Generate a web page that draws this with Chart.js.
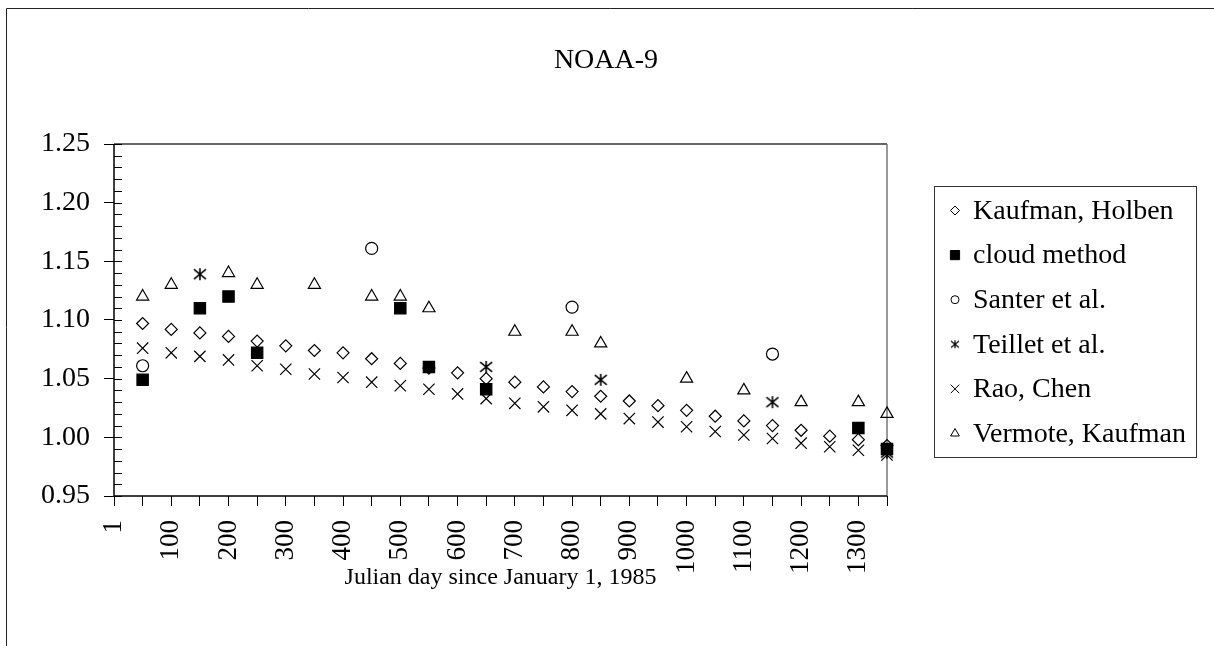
<!DOCTYPE html>
<html>
<head>
<meta charset="utf-8">
<title>NOAA-9</title>
<script src="https://cdn.jsdelivr.net/npm/chart.js@4/dist/chart.umd.min.js"></script>
<style>
  html, body { margin: 0; padding: 0; background: #fff; }
  canvas { display: block; }
</style>
</head>
<body>
<canvas id="noaaChart" width="1214" height="646"></canvas>
<script>
// x categories: Julian day since January 1, 1985
const days = [1, 50, 100, 150, 200, 250, 300, 350, 400, 450, 500, 550, 600, 650,
  700, 750, 800, 850, 900, 950, 1000, 1050, 1100, 1150, 1200, 1250, 1300, 1350];

// dense series, one value per day (null for day 1)
const kaufmanHolben = [null, 1.097, 1.092, 1.089, 1.086, 1.082, 1.078, 1.074, 1.072, 1.067,
  1.063, 1.059, 1.055, 1.050, 1.047, 1.043, 1.039, 1.035, 1.031, 1.027, 1.023, 1.018,
  1.014, 1.010, 1.006, 1.001, 0.998, 0.993];
const raoChen = [null, 1.076, 1.072, 1.069, 1.066, 1.061, 1.058, 1.054, 1.051, 1.047,
  1.044, 1.041, 1.037, 1.033, 1.029, 1.026, 1.023, 1.020, 1.016, 1.013, 1.009, 1.005,
  1.002, 0.999, 0.995, 0.992, 0.989, 0.985];

// sparse series
const cloudDays = [50, 150, 200, 250, 500, 550, 650, 1300, 1350];
const cloudValues = [1.049, 1.110, 1.120, 1.072, 1.110, 1.060, 1.041, 1.008, 0.990];
const santerDays = [50, 450, 800, 1150];
const santerValues = [1.061, 1.161, 1.111, 1.071];
const teilletDays = [150, 650, 850, 1150, 1350];
const teilletValues = [1.139, 1.060, 1.049, 1.030, 0.987];
const vermoteDays = [50, 100, 200, 250, 350, 450, 500, 550, 700, 800, 850, 1000, 1100, 1200, 1300, 1350];
const vermoteValues = [1.12, 1.13, 1.14, 1.13, 1.13, 1.12, 1.12, 1.11, 1.09, 1.09, 1.08, 1.05, 1.04, 1.03, 1.03, 1.02];

const seriesNames = ['Kaufman, Holben', 'cloud method', 'Santer et al.', 'Teillet et al.', 'Rao, Chen', 'Vermote, Kaufman'];

const FONT = '"Liberation Serif", "Times New Roman", serif';

function pairs(xs, ys) {
  return xs.map((d, i) => ({ x: d, y: ys[i] }));
}

// Excel style star: an X with a vertical bar through it
function makeAsterisk(size, lw) {
  const c = document.createElement('canvas');
  c.width = size;
  c.height = size;
  const g = c.getContext('2d');
  const m = size / 2;
  const a = size / 2 - 1;
  g.strokeStyle = '#000';
  g.lineWidth = lw;
  g.beginPath();
  g.moveTo(m, m - a); g.lineTo(m, m + a);
  g.moveTo(m - a, m - a * 0.8); g.lineTo(m + a, m + a * 0.8);
  g.moveTo(m + a, m - a * 0.8); g.lineTo(m - a, m + a * 0.8);
  g.stroke();
  return c;
}
const starBig = makeAsterisk(14, 1.6);
const starSmall = makeAsterisk(10, 1.2);

function markerSet(label, data, style, radius, filled) {
  return {
    label: label,
    data: data,
    showLine: false,
    clip: false,
    pointStyle: style,
    pointRadius: radius,
    pointHoverRadius: radius,
    pointBorderWidth: 1.2,
    pointBorderColor: '#000',
    pointBackgroundColor: filled ? '#000' : 'rgba(0,0,0,0)',
    borderColor: '#000',
    backgroundColor: filled ? '#000' : 'rgba(0,0,0,0)'
  };
}

const legendStyle = {
  rectRot: { r: 4.5 },
  rect: { r: 6.5 },
  circle: { r: 4 },
  crossRot: { r: 6 },
  triangle: { r: 5 }
};

const decorations = {
  id: 'decorations',
  beforeDraw(chart) {
    const ctx = chart.ctx;
    ctx.save();
    ctx.fillStyle = '#fff';
    ctx.fillRect(0, 0, chart.width, chart.height);
    ctx.strokeStyle = '#222';
    ctx.lineWidth = 1;
    ctx.beginPath();
    ctx.moveTo(6.5, chart.height);
    ctx.lineTo(6.5, 8.5);
    ctx.lineTo(chart.width, 8.5);
    ctx.stroke();
    ctx.restore();
  },
  beforeDatasetsDraw(chart) {
    const ctx = chart.ctx;
    const a = chart.chartArea;
    const y = chart.scales.y;
    ctx.save();
    ctx.lineWidth = 1.5;
    ctx.strokeStyle = '#333';
    ctx.beginPath();
    ctx.moveTo(a.left, a.top); ctx.lineTo(a.right, a.top);
    ctx.stroke();
    ctx.strokeStyle = '#777';
    ctx.beginPath();
    ctx.moveTo(a.right, a.top); ctx.lineTo(a.right, a.bottom);
    ctx.stroke();
    ctx.strokeStyle = '#000';
    ctx.beginPath();
    ctx.moveTo(a.left, a.top); ctx.lineTo(a.left, a.bottom); ctx.lineTo(a.right, a.bottom);
    ctx.stroke();
    // inner ticks on the value axis
    ctx.lineWidth = 1;
    ctx.beginPath();
    y.ticks.forEach(t => {
      const py = Math.round(y.getPixelForValue(t.value)) + 0.5;
      ctx.moveTo(a.left, py);
      ctx.lineTo(a.left + 8, py);
    });
    ctx.stroke();
    ctx.restore();
  },
  afterDraw(chart) {
    const ctx = chart.ctx;
    const helpers = Chart.helpers;
    ctx.save();
    // title
    ctx.fillStyle = '#000';
    ctx.font = '28px ' + FONT;
    ctx.textAlign = 'center';
    ctx.textBaseline = 'alphabetic';
    ctx.fillText('NOAA-9', 606, 68);

    // legend
    const box = { left: 934, top: 186, right: 1196, bottom: 457 };
    ctx.strokeStyle = '#333';
    ctx.lineWidth = 1;
    ctx.strokeRect(box.left + 0.5, box.top + 0.5, box.right - box.left, box.bottom - box.top);
    const step = 44.6;
    const firstY = 210.5;
    ctx.textAlign = 'left';
    ctx.textBaseline = 'middle';
    chart.data.datasets.forEach((ds, i) => {
      const cy = firstY + i * step;
      let style = ds.pointStyle;
      let r = 5;
      if (style === starBig) {
        style = starSmall;
      } else {
        r = legendStyle[style].r;
      }
      ctx.fillStyle = ds.pointBackgroundColor;
      ctx.strokeStyle = '#000';
      ctx.lineWidth = 1;
      helpers.drawPoint(ctx, { pointStyle: style, radius: r, rotation: 0, borderWidth: 1 }, 955, cy);
      ctx.fillStyle = '#000';
      ctx.fillText(ds.label, 973, cy + 1);
    });
    ctx.restore();
  }
};

new Chart(document.getElementById('noaaChart'), {
  type: 'line',
  data: {
    labels: days,
    datasets: [
      markerSet(seriesNames[0], kaufmanHolben, 'rectRot', 6, false),
      markerSet(seriesNames[1], pairs(cloudDays, cloudValues), 'rect', 8, true),
      markerSet(seriesNames[2], pairs(santerDays, santerValues), 'circle', 6, false),
      markerSet(seriesNames[3], pairs(teilletDays, teilletValues), starBig, 7, false),
      markerSet(seriesNames[4], raoChen, 'crossRot', 8, false),
      markerSet(seriesNames[5], pairs(vermoteDays, vermoteValues), 'triangle', 7, false)
    ]
  },
  options: {
    responsive: false,
    animation: false,
    events: [],
    layout: { padding: { left: 0, top: 144, right: 327, bottom: 54 } },
    plugins: {
      legend: { display: false },
      title: { display: false },
      tooltip: { enabled: false }
    },
    scales: {
      x: {
        type: 'category',
        offset: false,
        border: { display: false },
        grid: { drawOnChartArea: false, drawTicks: true, tickLength: 10, color: '#000', tickColor: '#000' },
        ticks: {
          autoSkip: false,
          maxRotation: 90,
          minRotation: 90,
          padding: 14,
          color: '#000',
          font: { family: FONT, size: 27 },
          callback: function (value, index) {
            return index % 2 === 0 ? String(this.getLabelForValue(value)) : '';
          }
        },
        title: {
          display: true,
          text: 'Julian day since January 1, 1985',
          color: '#000',
          padding: { top: 0, bottom: 0 },
          font: { family: FONT, size: 24 }
        },
        afterFit(scale) { scale.height = 96; }
      },
      y: {
        min: 0.95,
        max: 1.25,
        border: { display: false },
        grid: {
          drawOnChartArea: false,
          drawTicks: true,
          tickLength: 10,
          tickColor: ctx => {
            const v = ctx.tick ? ctx.tick.value : 0;
            return Math.abs(v * 20 - Math.round(v * 20)) < 1e-6 ? '#000' : 'rgba(0,0,0,0)';
          }
        },
        ticks: {
          stepSize: 0.01,
          autoSkip: false,
          padding: 14,
          color: '#000',
          font: { family: FONT, size: 28 },
          callback: v => Math.abs(v * 20 - Math.round(v * 20)) < 1e-6 ? v.toFixed(2) : ''
        },
        afterFit(scale) { scale.width = 114; }
      }
    }
  },
  plugins: [decorations]
});
</script>
</body>
</html>
